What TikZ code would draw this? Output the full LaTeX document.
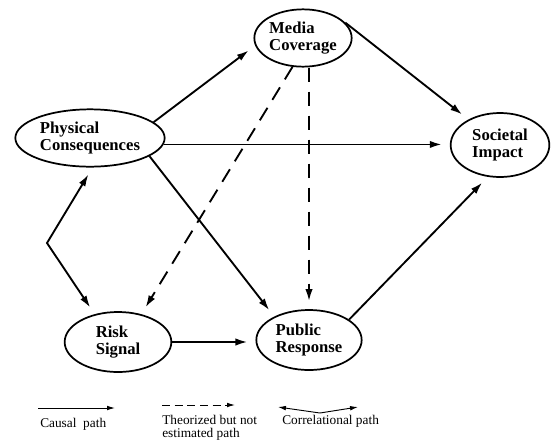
\documentclass[tikz,border=0pt]{standalone}
\usepackage{fontspec}
\setmainfont{Liberation Serif}
\usetikzlibrary{shapes,arrows.meta,positioning,calc}

\begin{document}
\begin{tikzpicture}[x=0.75pt,y=0.75pt,
    factor/.style={ellipse, draw, line width=1.3pt, inner sep=0pt, align=left,
        font=\fontsize{12.5}{13}\selectfont\bfseries},
    causal/.style={line width=1.4pt, -{Latex[length=9pt,width=5.5pt]}, shorten >=6pt},
    theory/.style={causal, dash pattern=on 11pt off 7pt},
    corr/.style={line width=1.4pt, {Latex[length=9pt,width=5.5pt]}-{Latex[length=9pt,width=5.5pt]},
        shorten >=6pt, shorten <=6pt},
    keyline/.style={line width=0.7pt, -{Latex[length=6pt,width=3.5pt]}},
    keytext/.style={anchor=base west, inner sep=0pt, align=left,
        font=\fontsize{10}{9.75}\selectfont}]

    \useasboundingbox (0,0) rectangle (552,-443);

    % Factors
    \node[factor, minimum width=112pt, minimum height=43pt] (phys) at (90,-138) {Physical\\Consequences};
    \node[factor, minimum width=73pt, minimum height=43pt] (media) at (303,-38) {Media\\Coverage};
    \node[factor, minimum width=74pt, minimum height=48pt] (soc) at (500,-145) {Societal\\Impact};
    \node[factor, minimum width=80pt, minimum height=45pt] (risk) at (118,-342) {Risk\\Signal};
    \node[factor, minimum width=79pt, minimum height=45pt] (public) at (309,-340) {Public\\Response};

    % Causal paths
    \draw[causal] (phys.14) -- (media.189);
    \draw[causal] (media.20) -- (soc.141);
    \draw[causal] (phys.-5) -- (phys.-5 -| soc.west);
    \draw[causal] (phys.-17) -- (public.146);
    \draw[causal] (risk.east) -- (risk.east -| public.west);
    \draw[causal] (public.27) -- (soc.249);

    % Theorized paths
    \draw[theory] (media.250) -- (risk.50);
    \draw[theory] (public.north |- media.south) -- (public.north);

    % Correlational path
    \coordinate (corner) at (47,-243);
    \draw[corr] (phys.-85) -- (corner) -- (risk.130);

    % Key
    \coordinate (k1a) at (38,-408);
    \coordinate (k1b) at (115,-408);
    \draw[keyline] (k1a) -- (k1b);
    \node[keytext] (k1) at (40,-427) {Causal\ \ path};

    \coordinate (k2a) at (162,-405);
    \coordinate (k2b) at (235,-405);
    \draw[keyline, dash pattern=on 6pt off 3.5pt] (k2a) -- (k2b);
    \node[keytext] (k2) at (162,-437) {Theorized but not\\estimated path};

    \coordinate (k3a) at (278,-407);
    \coordinate (k3m) at (320,-413);
    \coordinate (k3b) at (358,-407);
    \draw[keyline, {Latex[length=6pt,width=3.5pt]}-{Latex[length=6pt,width=3.5pt]}] (k3a) -- (k3m) -- (k3b);
    \node[keytext] (k3) at (282,-424) {Correlational path};
\end{tikzpicture}
\end{document}
